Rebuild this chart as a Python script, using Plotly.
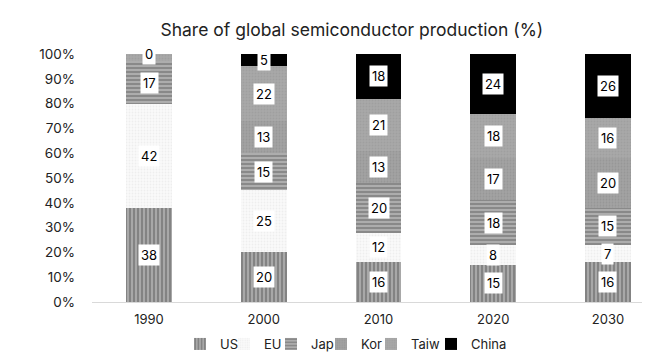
import plotly.graph_objects as go

years = ["1990", "2000", "2010", "2020", "2030"]
series_names = ["US", "EU", "Jap", "Kor", "Taiw", "China"]
us = [38, 20, 16, 15, 16]
eu = [42, 25, 12, 8, 7]
jap = [17, 15, 20, 18, 15]
kor = [0, 13, 13, 17, 20]
taiw = [3, 22, 21, 18, 16]
china = [0, 5, 18, 24, 26]
# labels not shown in the original (series, year)
hidden_labels = {("Kor", "1990"), ("Taiw", "1990")}

values = [us, eu, jap, kor, taiw, china]
styles = {
    "US": dict(color="#9a9a9a", pattern=dict(shape="|", fgcolor="#5e5e5e", bgcolor="#a8a8a8", size=4, solidity=0.5)),
    "EU": dict(color="#f7f7f7", pattern=dict(shape=".", fgcolor="#e2e2e2", bgcolor="#fafafa", size=3, solidity=0.3)),
    "Jap": dict(color="#8a8a8a", pattern=dict(shape="-", fgcolor="#666666", bgcolor="#adadad", size=4, solidity=0.5)),
    "Kor": dict(color="#9c9c9c", pattern=dict(shape=".", fgcolor="#8c8c8c", bgcolor="#a2a2a2", size=3, solidity=0.3)),
    "Taiw": dict(color="#a4a4a4", pattern=dict(shape=".", fgcolor="#969696", bgcolor="#a8a8a8", size=3, solidity=0.3)),
    "China": dict(color="#000000"),
}
# legend entry placement (left edge of each entry, px in the 650-wide page)
legend_left_px = [172, 216, 263, 313, 363, 423]

fig = go.Figure()
legend_layout = {}
for k, (name, vals) in enumerate(zip(series_names, values)):
    lname = "legend" if k == 0 else f"legend{k + 1}"
    fig.add_trace(go.Bar(
        x=years, y=vals, name=name, legend=lname,
        marker=dict(line=dict(width=0), **styles[name]),
    ))
    legend_layout[lname] = dict(
        orientation="h", xref="container", yref="container",
        x=legend_left_px[k] / 650, xanchor="left",
        y=1 - 336 / 363, yanchor="middle",
        font=dict(size=13, color="#222222", family="Inter"),
        itemwidth=30, bgcolor="rgba(0,0,0,0)",
    )

annotations = []
cum = [0] * len(years)
for name, vals in zip(series_names, values):
    for i, (yr, v) in enumerate(zip(years, vals)):
        mid = cum[i] + v / 2
        cum[i] += v
        if (name, yr) in hidden_labels:
            continue
        annotations.append(dict(
            x=i, y=mid, xref="x", yref="y", text=str(v), showarrow=False,
            bgcolor="white", borderpad=2,
            font=dict(size=13, color="black", family="Inter"),
        ))

fig.update_layout(
    width=650, height=363,
    barmode="stack", bargap=0.6,
    plot_bgcolor="white", paper_bgcolor="white",
    margin=dict(l=84, r=0, t=46, b=69),
    font=dict(family="Inter", size=12, color="#222222"),
    title=dict(text="Share of global semiconductor production (%)", x=0.529, xanchor="center",
               y=0.94, yanchor="middle", font=dict(size=17.5, color="#222222", family="Inter")),
    xaxis=dict(type="category", range=[-0.497, 4.436], showgrid=False, showline=True,
               linecolor="#d9d9d9", linewidth=1, ticks="", tickfont=dict(size=13),
               ticklabelstandoff=5),
    yaxis=dict(range=[0, 100], dtick=10, ticksuffix="%", showgrid=False, zeroline=False,
               showline=False, tickfont=dict(size=13.5), ticklabelstandoff=16),
    annotations=annotations,
    showlegend=True,
    **legend_layout,
)

fig.write_html("out.html")
